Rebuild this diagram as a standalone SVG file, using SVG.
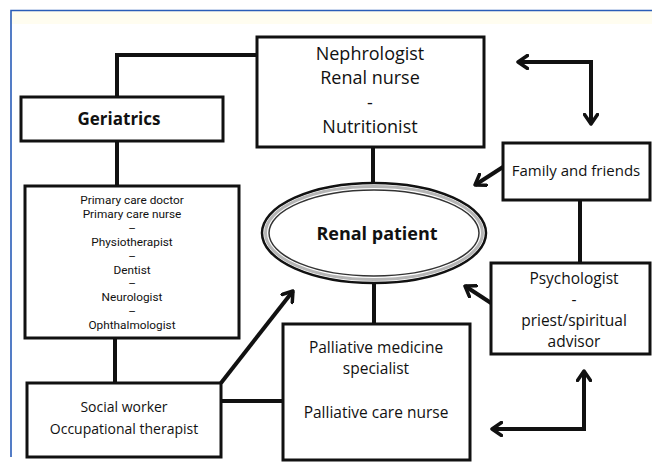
<svg xmlns="http://www.w3.org/2000/svg" width="652" height="467" viewBox="0 0 652 467">
<defs>
<style>
.box{fill:#fff;stroke:#111;stroke-width:3}
.ln{fill:none;stroke:#111;stroke-width:4}
.ar{fill:none;stroke:#111;stroke-width:4}
text{font-family:"Open Sans","DejaVu Sans",sans-serif;fill:#111;text-anchor:middle}
.b{font-weight:bold}
.sm{font-family:Roboto,"Open Sans",sans-serif;font-size:11.8px}
</style>
<marker id="ah" viewBox="0 0 13 16" refX="11" refY="8" markerWidth="13" markerHeight="16" markerUnits="userSpaceOnUse" orient="auto-start-reverse">
<path d="M1.5,1.5 L11,8 L1.5,14.5" fill="none" stroke="#111" stroke-width="3.5" stroke-linecap="round" stroke-linejoin="round"/>
</marker>
</defs>
<rect x="0" y="0" width="652" height="467" fill="#fff"/>
<rect x="11" y="11" width="641" height="13" fill="#fffdf0"/>
<path d="M11,457 L11,10.5 L652,10.5" fill="none" stroke="#2a5db8" stroke-width="1.6"/>

<g id="connectors">
<path class="ln" d="M257,55 L117,55 L117,97"/>
<path class="ln" d="M117,141 L117,186"/>
<path class="ln" d="M115,338 L115,383"/>
<path class="ln" d="M221,401 L283,401"/>
<path class="ln" d="M373,147 L373,184"/>
<path class="ln" d="M374,283 L374,324"/>
<path class="ln" d="M580,200 L580,263"/>
<path class="ar" d="M221,383 L293,291" marker-end="url(#ah)"/>
<path class="ar" d="M503,167 L475,185" marker-end="url(#ah)"/>
<path class="ar" d="M491,303 L465,286" marker-end="url(#ah)"/>
<path class="ar" d="M518,62 L591,62 L591,124" marker-start="url(#ah)" marker-end="url(#ah)"/>
<path class="ar" d="M584,371 L584,429 L492,429" marker-start="url(#ah)" marker-end="url(#ah)"/>
</g>

<g id="nephrologist">
<rect class="box" x="257" y="37" width="227" height="110"/>
<text x="370" y="59.5" font-size="18">Nephrologist</text>
<text x="370" y="84" font-size="18">Renal nurse</text>
<text x="370" y="108.5" font-size="18">-</text>
<text x="370" y="133" font-size="18">Nutritionist</text>
</g>

<g id="geriatrics">
<rect class="box" x="21" y="97" width="202" height="44"/>
<text class="b" x="119" y="125" font-size="17">Geriatrics</text>
</g>

<g id="primary">
<rect class="box" x="25" y="186" width="214" height="152"/>
<text class="sm" x="132" y="204">Primary care doctor</text>
<text class="sm" x="132" y="217.9">Primary care nurse</text>
<text class="sm" x="132" y="231.8">–</text>
<text class="sm" x="132" y="245.7">Physiotherapist</text>
<text class="sm" x="132" y="259.6">–</text>
<text class="sm" x="132" y="273.5">Dentist</text>
<text class="sm" x="132" y="287.4">–</text>
<text class="sm" x="132" y="301.3">Neurologist</text>
<text class="sm" x="132" y="315.2">–</text>
<text class="sm" x="132" y="329.1">Ophthalmologist</text>
</g>

<g id="social">
<rect class="box" x="27" y="383" width="194" height="74"/>
<text x="124" y="412" font-size="14">Social worker</text>
<text x="124" y="434" font-size="14">Occupational therapist</text>
</g>

<g id="palliative">
<rect class="box" x="283" y="324" width="187" height="136"/>
<text x="376" y="352.5" font-size="15.5">Palliative medicine</text>
<text x="376" y="373.7" font-size="15.5">specialist</text>
<text x="376" y="418" font-size="15.5">Palliative care nurse</text>
</g>

<g id="patient">
<ellipse cx="374" cy="233" rx="112" ry="50" fill="#fff" stroke="#111" stroke-width="2.5"/>
<ellipse cx="374" cy="233" rx="108.5" ry="46.5" fill="none" stroke="#b5b5b5" stroke-width="3"/>
<ellipse cx="374" cy="233" rx="105" ry="43" fill="#fff" stroke="#333" stroke-width="1.5"/>
<text class="b" x="377" y="240" font-size="18">Renal patient</text>
</g>

<g id="family">
<rect class="box" x="503" y="143" width="147" height="57"/>
<text x="576" y="176" font-size="15">Family and friends</text>
</g>

<g id="psychologist">
<rect class="box" x="491" y="263" width="159" height="91"/>
<text x="574" y="283.5" font-size="15.5">Psychologist</text>
<text x="574" y="304.7" font-size="15.5">-</text>
<text x="574" y="325.9" font-size="15.5">priest/spiritual</text>
<text x="574" y="347.1" font-size="15.5">advisor</text>
</g>
</svg>
